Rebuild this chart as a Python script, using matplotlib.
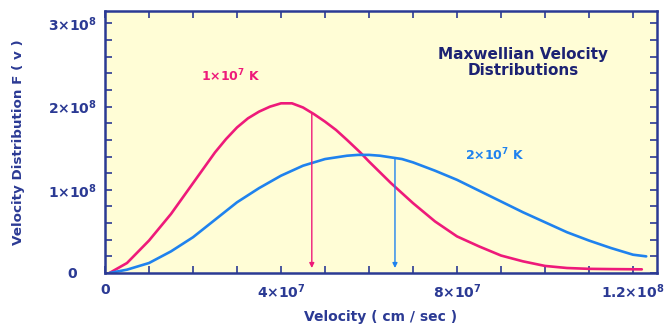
import numpy as np
import matplotlib
matplotlib.use('Agg')
import matplotlib.pyplot as plt
from matplotlib.ticker import MultipleLocator

# values (velocity in 1e7 cm/s, F(v) in 1e8)
red_v = [0.10, 0.50, 1.00, 1.50, 2.00, 2.50, 2.75, 3.00, 3.25, 3.50, 3.75, 4.00,
         4.25, 4.50, 4.75, 5.00, 5.25, 5.50, 5.80, 6.00, 6.50, 7.00, 7.50, 8.00,
         8.50, 9.00, 9.50, 10.00, 10.50, 11.00, 11.50, 12.20]
red_f = [0.00, 0.12, 0.39, 0.71, 1.08, 1.45, 1.61, 1.75, 1.86, 1.94, 2.00, 2.04,
         2.04, 1.99, 1.91, 1.82, 1.72, 1.60, 1.45, 1.34, 1.08, 0.84, 0.62, 0.44,
         0.32, 0.21, 0.14, 0.085, 0.06, 0.05, 0.047, 0.044]

blue_v = [0.10, 0.50, 1.00, 1.50, 2.00, 2.50, 3.00, 3.50, 4.00, 4.50, 5.00, 5.25,
          5.50, 5.75, 6.00, 6.25, 6.50, 6.75, 7.00, 7.50, 8.00, 8.50, 9.00, 9.50,
          10.00, 10.50, 11.00, 11.50, 12.00, 12.30]
blue_f = [0.00, 0.04, 0.12, 0.26, 0.43, 0.64, 0.85, 1.02, 1.17, 1.29, 1.37, 1.39,
          1.41, 1.42, 1.42, 1.41, 1.39, 1.37, 1.33, 1.23, 1.12, 0.99, 0.86, 0.73,
          0.61, 0.49, 0.39, 0.30, 0.22, 0.20]

arrow_v = [4.70, 6.59]      # vertical arrows (1e7 cm/s)
labels = [r'1$\times$10$^7$ K', r'2$\times$10$^7$ K']

x_ticks = [0, 4e7, 8e7, 1.2e8]
x_ticklabels = ['0', r'4$\times$10$^7$', r'8$\times$10$^7$', r'1.2$\times$10$^8$']
y_ticks = [0, 1e8, 2e8, 3e8]
y_ticklabels = ['0    ', r'1$\times$10$^8$', r'2$\times$10$^8$', r'3$\times$10$^8$']

pink = '#ee1a7a'
blue = '#1f82ee'
navy = '#2b3a94'
dark = '#1c2273'

rv = np.array(red_v) * 1e7
rf = np.array(red_f) * 1e8
bv = np.array(blue_v) * 1e7
bf = np.array(blue_f) * 1e8

plt.rcParams['font.family'] = ['DejaVu Sans']
plt.rcParams['font.weight'] = 'bold'
plt.rcParams['mathtext.default'] = 'bf'

fig = plt.figure(figsize=(6.65, 3.24), dpi=100)
ax = fig.add_axes([105/665, 1-273/324, 552/665, 262/324])
ax.set_facecolor('#fffdd6')

ax.plot(rv, rf, color=pink, lw=1.9, solid_joinstyle='round', solid_capstyle='round')
ax.plot(bv, bf, color=blue, lw=1.9, solid_joinstyle='round', solid_capstyle='round')

# arrows from the curve down to the axis
for v, xs, ys, c in [(arrow_v[0], rv, rf, pink), (arrow_v[1], bv, bf, blue)]:
    top = np.interp(v * 1e7, xs, ys)
    ax.annotate('', xy=(v * 1e7, 0.06e8), xytext=(v * 1e7, top),
                arrowprops=dict(arrowstyle='-|>', color=c, lw=1.0,
                                mutation_scale=7, shrinkA=0, shrinkB=0))

ax.text(2.85e7, 2.37e8, labels[0], color=pink, fontsize=9, ha='center', va='center')
ax.text(8.85e7, 1.42e8, labels[1], color=blue, fontsize=9, ha='center', va='center')
ax.text(9.5e7, 2.53e8, 'Maxwellian Velocity\nDistributions', color=dark,
        fontsize=11, ha='center', va='center', linespacing=1.1)

ax.set_xlim(0, 1.2545e8)
ax.set_ylim(0, 3.15e8)
ax.set_xticks(x_ticks)
ax.set_xticklabels(x_ticklabels)
ax.set_yticks(y_ticks)
ax.set_yticklabels(y_ticklabels)
ax.xaxis.set_minor_locator(MultipleLocator(1e7))
ax.yaxis.set_minor_locator(MultipleLocator(0.2e8))

ax.tick_params(which='both', direction='in', top=True, right=True,
               length=5, width=1.2, color=navy, labelcolor=navy, labelsize=10)
ax.tick_params(axis='x', pad=7)
ax.tick_params(axis='y', pad=6)
for s in ax.spines.values():
    s.set_color(navy)
    s.set_linewidth(1.8)

ax.set_xlabel('Velocity ( cm / sec )', color=navy, fontsize=10,
              fontweight='bold', labelpad=6)
ax.set_ylabel('Velocity Distribution F ( v )', color=navy, fontsize=9.7,
              fontweight='bold', labelpad=16)

fig.savefig('out.png', dpi=100, facecolor='white')
